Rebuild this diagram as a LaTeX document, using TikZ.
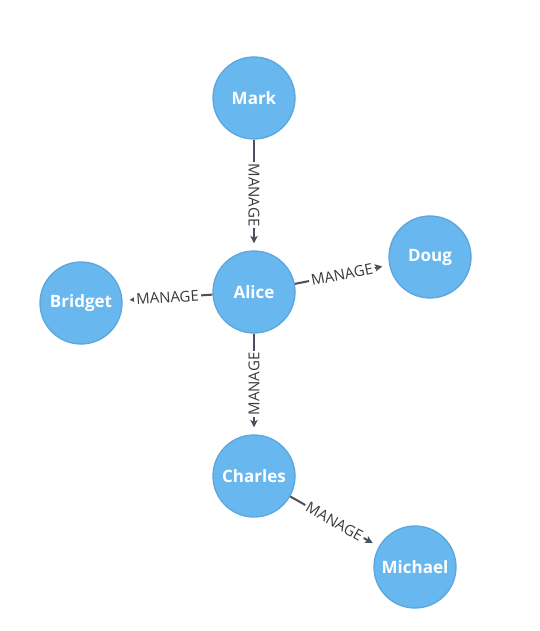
\documentclass[tikz,border=0pt]{standalone}
\usepackage{fontspec}
\setmainfont{Open Sans}
\usetikzlibrary{arrows.meta}
\definecolor{nodeblue}{HTML}{68B8EF}
\definecolor{nodeedge}{HTML}{5AA6DD}
\definecolor{reledge}{HTML}{4A505C}
\definecolor{lbltext}{HTML}{3A3A3A}
\begin{document}
\begin{tikzpicture}[x=1pt, y=-1pt,
    person/.style={circle, draw=nodeedge, line width=1.3pt, fill=nodeblue, minimum size=82pt, inner sep=0pt, text=white, font=\fontsize{17}{20}\selectfont\bfseries},
    rel/.style={-{Stealth[length=7.5pt, width=7.5pt, inset=2pt]}, reledge, line width=2pt, shorten >=7pt},
    lbl/.style={fill=white, inner xsep=2pt, inner ysep=0pt, text=lbltext, font=\fontsize{15}{17}\selectfont}]
\fill[white] (0,0) rectangle (540,631);
\node[person] (mark) at (254,98) {Mark};
\node[person] (alice) at (254,292) {Alice};
\node[person] (doug) at (430,257) {Doug};
\node[person] (bridget) at (81,303) {Bridget};
\node[person] (charles) at (254,476) {Charles};
\node[person] (michael) at (415,567) {Michael};
\draw[rel] (mark) -- node[lbl, rotate=-90]{MANAGE} (alice);
\draw[rel] (alice) -- node[lbl, sloped]{MANAGE} (doug);
\draw[rel] (alice) -- node[lbl, sloped]{MANAGE} (bridget);
\draw[rel] (alice) -- node[lbl, rotate=90]{MANAGE} (charles);
\draw[rel] (charles) -- node[lbl, sloped]{MANAGE} (michael);
\end{tikzpicture}
\end{document}
